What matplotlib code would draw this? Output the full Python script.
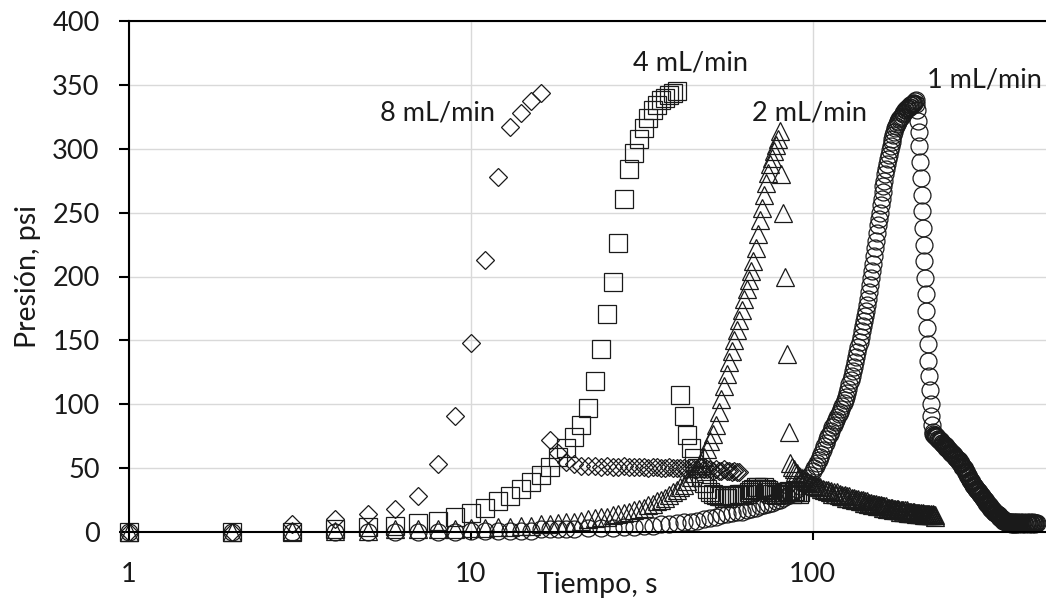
import matplotlib.pyplot as plt

plt.rcParams['font.family'] = ['Lato', 'DejaVu Sans']

# 8 mL/min (diamonds) - time in s, pressure in psi
t_8 = list(range(1, 62))
p_8 = [0, 0, 6, 10, 14, 18, 28, 53, 91, 148, 213, 278, 317, 328, 337, 344, 72, 62, 55, 53,
       52, 52, 52, 51, 52, 51, 51, 52, 51, 51, 51, 51, 50, 51, 51, 50, 50, 51, 50, 50,
       50, 50, 49, 50, 49, 49, 50, 49, 49, 49, 48, 49, 48, 48, 49, 48, 48, 47, 48, 47, 47]

# 4 mL/min (squares)
t_4 = list(range(1, 93))
p_4 = [0, 0, 0, 2, 4, 5, 7, 9, 12, 15, 19, 24, 28, 34, 39, 45, 51, 59, 66, 74,
       84, 97, 118, 143, 171, 196, 226, 261, 284, 297, 308, 316, 324, 330, 334, 338, 340, 342, 344, 345,
       107, 91, 76, 66, 58, 50, 43, 38, 34, 31, 30, 29, 28, 28, 27, 27, 28, 28, 29, 29,
       30, 30, 29, 30, 31, 33, 34, 35, 35, 34, 33, 35, 34, 33, 31, 30, 30, 29, 30, 31,
       30, 30, 31, 31, 32, 31, 30, 31, 32, 31, 30, 31]

# 2 mL/min (triangles)
t_2 = list(range(1, 87)) + list(range(87, 229))
p_2 = [0, 0, 1, 1, 1, 2, 2, 2, 2, 3, 3, 4, 4, 5, 5, 6, 6, 7, 8, 8,
       9, 10, 11, 12, 12, 13, 14, 15, 16, 17, 18, 19, 21, 22, 24, 25, 27, 29, 31, 33,
       35, 37, 40, 43, 46, 50, 54, 59, 65, 71, 77, 84, 94, 104, 114, 124, 133, 142, 150, 158,
       166, 174, 182, 190, 197, 204, 212, 222, 233, 244, 254, 264, 273, 281, 288, 293, 298, 303, 308, 314,
       280, 250, 200, 139, 78, 54,
       51, 49, 47, 46, 44, 43, 42, 41, 41, 40,
       39, 38, 38, 37, 37, 36, 36, 35, 35, 34,
       34, 33, 33, 32, 33, 31, 32, 30, 31, 30,
       30, 31, 29, 30, 28, 29, 28, 29, 27, 28,
       27, 28, 26, 27, 26, 27, 25, 26, 25, 26,
       24, 25, 24, 25, 23, 24, 23, 24, 22, 23,
       22, 23, 21, 22, 22, 21, 22, 20, 21, 21,
       20, 21, 20, 19, 20, 20, 19, 20, 18, 19,
       19, 18, 19, 18, 19, 17, 18, 18, 17, 18,
       17, 18, 17, 16, 17, 17, 16, 17, 16, 17,
       16, 17, 16, 15, 16, 16, 15, 16, 15, 16,
       15, 16, 15, 15, 14, 15, 15, 14, 15, 14,
       15, 14, 14, 15, 14, 13, 14, 14, 13, 14,
       14, 13, 14, 13, 14, 13, 13, 14, 13, 13,
       13, 12]

# 1 mL/min (circles)
t_1 = (list(range(1, 21)) + list(range(22, 101, 2)) + list(range(101, 225))
       + list(range(225, 401)) + list(range(402, 453, 2)))
p_1 = [0, 0, 0, 0, 0, 0, 0, 0, 0, 1, 1, 1, 1, 1, 1, 2, 2, 2, 2, 2,
       3, 3, 3, 4, 4, 5, 5, 6, 6, 7, 8, 8, 9, 10, 11, 12, 13, 14, 15, 16,
       16, 17, 18, 19, 20, 21, 22, 23, 24, 25, 27, 28, 30, 32, 34, 36, 39, 42, 45, 48,
       # rise 101-200
       50, 52, 54, 56, 59, 61, 64, 67, 70, 73, 75, 77, 79, 82, 84, 86, 88, 90, 92, 94,
       96, 99, 101, 103, 106, 109, 112, 116, 119, 122, 126, 129, 133, 137, 141, 145, 149, 153, 157, 161,
       165, 169, 173, 178, 182, 188, 193, 199, 204, 210, 216, 222, 228, 234, 240, 245, 250, 256, 261, 266,
       271, 275, 280, 284, 288, 292, 295, 299, 302, 305, 308, 311, 313, 316, 318, 319, 321, 322, 323, 324,
       325, 326, 327, 328, 329, 330, 330, 331, 332, 332, 333, 333, 334, 334, 335, 335, 336, 336, 337, 338,
       # fall 201-224
       335, 330, 322, 313, 302, 290, 277, 264, 251, 238, 225, 212, 199, 186, 173, 160, 147, 134, 122, 111,
       100, 91, 84, 78,
       # tail 225-400
       77, 76, 76, 75, 75, 74, 74, 73, 73, 72,
       72, 71, 71, 70, 70, 69, 69, 68, 68, 67,
       67, 66, 66, 65, 65, 64, 64, 63, 63, 62,
       62, 61, 61, 60, 60, 59, 59, 58, 58, 57,
       57, 56, 56, 55, 55, 54, 54, 53, 52, 51,
       51, 50, 50, 49, 48, 47, 47, 46, 45, 44,
       44, 43, 42, 41, 41, 40, 40, 39, 38, 37,
       37, 36, 36, 35, 35, 34, 34, 33, 33, 32,
       32, 31, 31, 30, 30, 29, 29, 28, 28, 27,
       27, 26, 26, 25, 25, 24, 24, 23, 23, 22,
       22, 21, 21, 20, 20, 19, 19, 18, 18, 18,
       17, 17, 17, 16, 16, 16, 15, 15, 15, 15,
       14, 14, 13, 13, 13, 13, 12, 12, 12, 11,
       11, 11, 10, 10, 10, 10, 9, 9, 9, 9,
       9, 9, 8, 8, 8, 8, 8, 8, 8, 8, 7,
       7, 8, 7, 6, 7, 8, 7, 7, 6, 7, 8, 7, 7, 6, 7, 8, 7, 7, 6, 7, 8, 7, 7, 6, 7,
       # 402-452
       7, 8, 7, 6, 7, 8, 7, 7, 6, 7, 8, 7, 7, 6, 7, 8, 7, 7, 6, 7, 8, 7, 7, 6, 7, 7]

series_labels = ['8 mL/min', '4 mL/min', '2 mL/min', '1 mL/min']
# where each series name sits (time, pressure of the text baseline)
label_pos = [(7.96, 322), (43.8, 361), (97.5, 322), (317, 348)]

fig = plt.figure(figsize=(10.46, 6.01), dpi=100)
ax = fig.add_axes([129 / 1046, 69 / 601, 917 / 1046, 511 / 601])

mk = dict(linestyle='none', markerfacecolor='none', markeredgecolor='#1a1a1a',
          markeredgewidth=0.9, clip_on=False)
ax.plot(t_1, p_1, marker='o', markersize=12.2, **mk)
ax.plot(t_2, p_2, marker='^', markersize=12.5, **mk)
ax.plot(t_4, p_4, marker='s', markersize=13, **mk)
ax.plot(t_8, p_8, marker='D', markersize=9, **mk)

for name, (tx, py) in zip(series_labels, label_pos):
    ax.text(tx, py, name, ha='center', va='baseline', fontsize=19.5, color='#1a1a1a')

ax.set_xscale('log')
ax.set_xlim(1, 481)
ax.set_ylim(0, 400)
ax.set_xticks([1, 10, 100], ['1', '10', '100'])
ax.minorticks_off()
ax.set_yticks(range(0, 401, 50))

ax.grid(color='#d9d9d9', linewidth=1.0)
ax.set_axisbelow(True)
ax.spines['right'].set_visible(False)
for s in ['left', 'bottom', 'top']:
    ax.spines[s].set_linewidth(1.5)

ax.tick_params(axis='y', length=7.2, width=1.5, pad=14, labelsize=19.5, labelcolor='#1a1a1a')
ax.tick_params(axis='x', length=5.8, width=1.5, pad=16, labelsize=19.5, labelcolor='#1a1a1a')

ax.set_xlabel('Tiempo, s', fontsize=20.5, color='#1a1a1a')
ax.xaxis.set_label_coords(0.511, -0.078)
ax.set_ylabel('Presión, psi', fontsize=20.5, color='#1a1a1a')
ax.yaxis.set_label_coords(-0.096, 0.5)

fig.savefig('out.png', dpi=100)
